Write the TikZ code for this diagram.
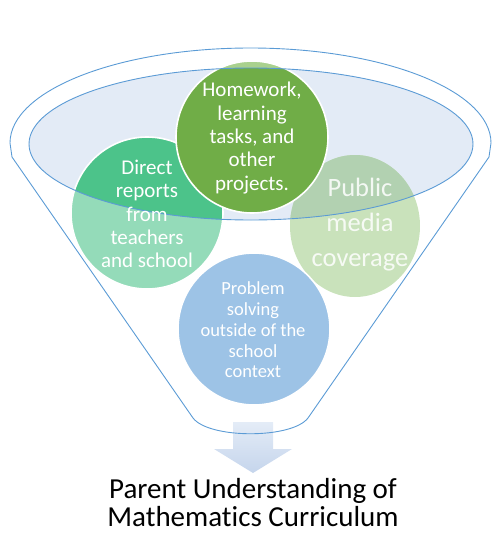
\documentclass[tikz,border=0pt]{standalone}
\usepackage{fontspec}
\setmainfont{Carlito}[Ligatures=NoCommon]
\begin{document}
\begin{tikzpicture}[x=1pt,y=-1pt,
  rimline/.style={draw=rimblue, line width=0.9pt},
  ring/.style={draw=white, line width=1.6pt},
  label/.style={text=white, align=center, inner sep=0pt}]
\definecolor{rimblue}{HTML}{5B9BD5}
\definecolor{rimfill}{HTML}{E3EBF6}
\definecolor{directlight}{HTML}{94DBB9}
\definecolor{directdark}{HTML}{4CC38A}
\definecolor{publiclight}{HTML}{C9E2BB}
\definecolor{publicdark}{HTML}{B2D1B1}
\definecolor{homelight}{HTML}{A9D18E}
\definecolor{homedark}{HTML}{70AD47}
\definecolor{problemfill}{HTML}{9DC3E6}
\definecolor{arrowtop}{HTML}{E4ECF7}
\definecolor{arrowbot}{HTML}{C5D5EC}
\useasboundingbox (0,0) rectangle (491,533);

% opening of the funnel
\fill[rimfill] (251,144) ellipse [x radius=222pt, y radius=76pt];

% Direct reports
\fill[directlight] (147,213) circle [radius=76pt];
\begin{scope}
  \clip (251,144) ellipse [x radius=222pt, y radius=76pt];
  \fill[directdark] (147,213) circle [radius=76pt];
\end{scope}
\draw[ring] (147,213) circle [radius=76pt];

% Public media
\fill[publiclight] (355,226) ellipse [x radius=65pt, y radius=71pt];
\begin{scope}
  \clip (251,144) ellipse [x radius=222pt, y radius=76pt];
  \fill[publicdark] (355,226) ellipse [x radius=65pt, y radius=71pt];
\end{scope}

% Homework
\fill[homelight] (252,137) circle [radius=76pt];
\begin{scope}
  \clip (251,144) ellipse [x radius=222pt, y radius=76pt];
  \fill[homedark] (252,137) circle [radius=76pt];
\end{scope}
\draw[ring] (252,137) circle [radius=76pt];

% Problem solving
\fill[problemfill] (254,329) circle [radius=76pt];
\draw[ring] (254,329) circle [radius=76pt];

% outflow arrow
\shade[top color=arrowtop, bottom color=arrowbot]
  (233,422) -- (273,422) -- (273,449) -- (292,449) -- (253,473)
  -- (214,449) -- (233,449) -- cycle;

% funnel outline and inner rim
\draw[rimline] (10,143) arc [start angle=180, end angle=0, x radius=240.5pt, y radius=95pt]
  -- (489,157) -- (308,418) .. controls (292,439) and (209,439) .. (193,418)
  -- (12,157) -- cycle;
\draw[rimline] (251,144) ellipse [x radius=222pt, y radius=76pt];

% labels
\node[label, font=\fontsize{21}{23.3}\selectfont] (homework) at (252,138)
  {Homework,\\learning\\tasks, and\\other\\projects.};
\node[label, font=\fontsize{21}{23.3}\selectfont] (direct) at (147,214)
  {Direct\\reports\\from\\teachers\\and school};
\node[label, text opacity=0.85, font=\fontsize{26.5}{35}\selectfont] (public) at (360,225)
  {Public\\media\\coverage};
\node[label, font=\fontsize{18.5}{20.8}\selectfont] (problem) at (253,330)
  {Problem\\solving\\outside of the\\school\\context};
\node[anchor=base, inner sep=0pt, font=\fontsize{29}{29}\selectfont] (title1) at (253,498)
  {Parent Understanding of};
\node[anchor=base, inner sep=0pt, font=\fontsize{29}{29}\selectfont] (title2) at (253,526)
  {Mathematics Curriculum};
\end{tikzpicture}
\end{document}
